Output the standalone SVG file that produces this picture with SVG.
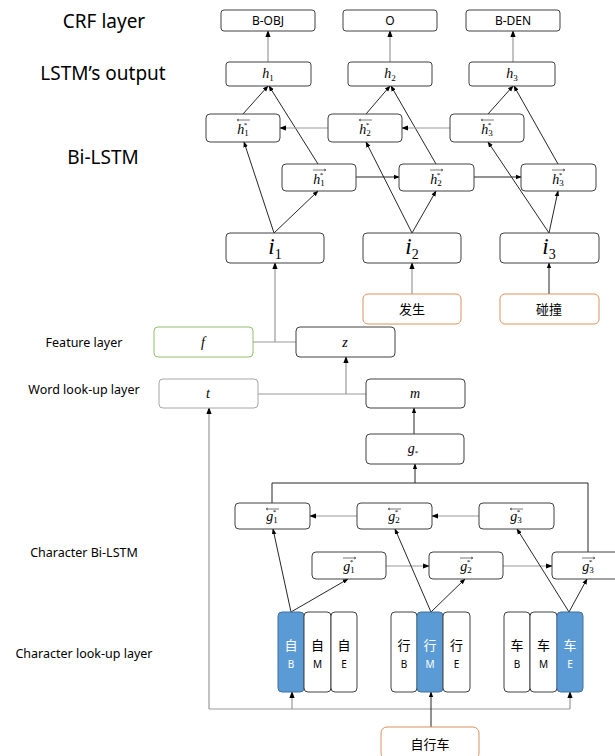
<svg xmlns="http://www.w3.org/2000/svg" width="615" height="756" viewBox="0 0 615 756">
<defs>
<style>
.n{fill:#fff;stroke:#404040;stroke-width:1}
.g{fill:#fff;stroke:#8fbf6a;stroke-width:1}
.lt{fill:#fff;stroke:#a6a6a6;stroke-width:1}
.o{fill:#fff;stroke:#e0905a;stroke-width:1}
.b{fill:#5b9bd5;stroke:#41719c;stroke-width:1}
.lbl{font-family:"Noto Sans","Liberation Sans",sans-serif;fill:#000;text-anchor:middle}
.big{font-size:19px}
.sm{font-size:12.5px}
.tag{font-family:"Noto Sans","Liberation Sans",sans-serif;font-size:12px;fill:#000;text-anchor:middle}
.cj{font-family:"Noto Sans CJK SC",sans-serif;font-size:13px;fill:#000;text-anchor:middle}
.cw{font-family:"Noto Sans CJK SC",sans-serif;font-size:13px;fill:#fff;text-anchor:middle}
.lt2{font-family:"Noto Sans","Liberation Sans",sans-serif;font-size:10px;fill:#000;text-anchor:middle}
.lw2{font-family:"Noto Sans","Liberation Sans",sans-serif;font-size:10px;fill:#fff;text-anchor:middle}
.v{font-family:"Liberation Serif",serif;font-style:italic;font-size:14px;fill:#000;text-anchor:middle}
.vi{font-family:"Liberation Serif",serif;font-style:italic;font-size:23px;fill:#000;text-anchor:middle}
.sub{font-style:normal;font-size:9px}
.subi{font-style:normal;font-size:14px}
.sup{font-style:normal;font-size:7px}
.d{stroke:#262626;stroke-width:1;fill:none}
.gr{stroke:#999;stroke-width:1.2;fill:none}
.ov{stroke:#555;stroke-width:0.8;fill:none}
</style>
<marker id="ad" viewBox="0 0 8 8" refX="7" refY="4" markerWidth="6" markerHeight="6" orient="auto"><path d="M0,1 L8,4 L0,7 z" fill="#000"/></marker>
</defs>

<g id="labels">
<text class="lbl big" x="104" y="28">CRF layer</text>
<text class="lbl big" x="103" y="80">LSTM’s output</text>
<text class="lbl big" x="103" y="164">Bi-LSTM</text>
<text class="lbl sm" x="84" y="347">Feature layer</text>
<text class="lbl sm" x="84" y="394">Word look-up layer</text>
<text class="lbl sm" x="84" y="557">Character Bi-LSTM</text>
<text class="lbl sm" x="84" y="658">Character look-up layer</text>
</g>

<g id="connectors">
<line class="gr" x1="268" y1="62" x2="268" y2="31" marker-end="url(#ad)"/>
<line class="gr" x1="390" y1="62" x2="390" y2="31" marker-end="url(#ad)"/>
<line class="gr" x1="513" y1="62" x2="513" y2="31" marker-end="url(#ad)"/>
<line class="d" x1="243" y1="114" x2="268" y2="86" marker-end="url(#ad)"/>
<line class="d" x1="318" y1="164" x2="269" y2="86" marker-end="url(#ad)"/>
<line class="d" x1="366" y1="114" x2="390" y2="86" marker-end="url(#ad)"/>
<line class="d" x1="436" y1="164" x2="391" y2="86" marker-end="url(#ad)"/>
<line class="d" x1="488" y1="114" x2="513" y2="86" marker-end="url(#ad)"/>
<line class="d" x1="558" y1="164" x2="514" y2="86" marker-end="url(#ad)"/>
<line class="gr" x1="328" y1="128" x2="280" y2="128" marker-end="url(#ad)"/>
<line class="gr" x1="450" y1="128" x2="402" y2="128" marker-end="url(#ad)"/>
<line class="d" x1="356" y1="177" x2="399" y2="177" marker-end="url(#ad)"/>
<line class="d" x1="474" y1="177" x2="521" y2="177" marker-end="url(#ad)"/>
<line class="d" x1="274" y1="233" x2="244" y2="142" marker-end="url(#ad)"/>
<line class="d" x1="274" y1="233" x2="318" y2="191" marker-end="url(#ad)"/>
<line class="d" x1="412" y1="233" x2="366" y2="142" marker-end="url(#ad)"/>
<line class="d" x1="412" y1="233" x2="436" y2="191" marker-end="url(#ad)"/>
<line class="d" x1="549" y1="233" x2="488" y2="142" marker-end="url(#ad)"/>
<line class="d" x1="549" y1="233" x2="558" y2="191" marker-end="url(#ad)"/>
<polyline class="gr" points="253,342 296,342"/>
<line class="gr" x1="275" y1="342" x2="275" y2="263" marker-end="url(#ad)"/>
<line class="gr" x1="412" y1="294" x2="412" y2="263" marker-end="url(#ad)"/>
<line class="d" x1="549" y1="294" x2="549" y2="263" marker-end="url(#ad)"/>
<polyline class="gr" points="258,394 366,394"/>
<line class="gr" x1="346" y1="394" x2="346" y2="357" marker-end="url(#ad)"/>
<line class="d" x1="414" y1="434" x2="414" y2="408" marker-end="url(#ad)"/>
<polyline class="d" points="272,503 272,483 588,483 588,552"/>
<line class="d" x1="415" y1="483" x2="415" y2="464" marker-end="url(#ad)"/>
<line class="gr" x1="357" y1="516" x2="310" y2="516" marker-end="url(#ad)"/>
<line class="gr" x1="479" y1="516" x2="432" y2="516" marker-end="url(#ad)"/>
<line class="gr" x1="386" y1="566" x2="429" y2="566" marker-end="url(#ad)"/>
<line class="gr" x1="503" y1="566" x2="552" y2="566" marker-end="url(#ad)"/>
<line class="d" x1="291" y1="612" x2="273" y2="529" marker-end="url(#ad)"/>
<line class="d" x1="291" y1="612" x2="348" y2="579" marker-end="url(#ad)"/>
<line class="d" x1="431" y1="612" x2="395" y2="529" marker-end="url(#ad)"/>
<line class="d" x1="431" y1="612" x2="465" y2="579" marker-end="url(#ad)"/>
<line class="d" x1="569" y1="612" x2="517" y2="529" marker-end="url(#ad)"/>
<line class="d" x1="569" y1="612" x2="587" y2="579" marker-end="url(#ad)"/>
<polyline class="gr" points="292,709 209,709"/>
<line class="gr" x1="209" y1="709" x2="209" y2="408" marker-end="url(#ad)"/>
<line class="gr" x1="292" y1="709" x2="292" y2="692" marker-end="url(#ad)"/>
<polyline class="gr" points="292,709 570,709"/>
<line class="gr" x1="570" y1="709" x2="570" y2="692" marker-end="url(#ad)"/>
<line class="d" x1="431" y1="727" x2="431" y2="692" marker-end="url(#ad)"/>
</g>

<g id="crf1"><rect class="n" x="221" y="10" width="94" height="21" rx="3"/><text class="tag" x="268" y="25">B-OBJ</text></g>
<g id="crf2"><rect class="n" x="343" y="10" width="94" height="21" rx="3"/><text class="tag" x="390" y="25">O</text></g>
<g id="crf3"><rect class="n" x="466" y="10" width="94" height="21" rx="3"/><text class="tag" x="513" y="25">B-DEN</text></g>

<g id="h1"><rect class="n" x="226" y="62" width="85" height="24" rx="3"/><text class="v" x="268" y="78">h<tspan class="sub" dy="3">1</tspan></text></g>
<g id="h2"><rect class="n" x="348" y="62" width="84" height="24" rx="3"/><text class="v" x="390" y="78">h<tspan class="sub" dy="3">2</tspan></text></g>
<g id="h3"><rect class="n" x="469" y="62" width="86" height="24" rx="3"/><text class="v" x="512" y="78">h<tspan class="sub" dy="3">3</tspan></text></g>

<g id="hb1"><rect class="n" x="206" y="114" width="74" height="28" rx="4"/><path class="ov" d="M237,120 H250 M237,120 l2,-1 M237,120 l2,1"/><text class="v" x="243" y="134">h<tspan class="sub" dy="2">1</tspan><tspan class="sup" dx="-5" dy="-9">*</tspan></text></g>
<g id="hb2"><rect class="n" x="328" y="114" width="74" height="28" rx="4"/><path class="ov" d="M359,120 H372 M359,120 l2,-1 M359,120 l2,1"/><text class="v" x="365" y="134">h<tspan class="sub" dy="2">2</tspan><tspan class="sup" dx="-5" dy="-9">*</tspan></text></g>
<g id="hb3"><rect class="n" x="450" y="114" width="74" height="28" rx="4"/><path class="ov" d="M481,120 H494 M481,120 l2,-1 M481,120 l2,1"/><text class="v" x="487" y="134">h<tspan class="sub" dy="2">3</tspan><tspan class="sup" dx="-5" dy="-9">*</tspan></text></g>

<g id="hf1"><rect class="n" x="282" y="164" width="74" height="27" rx="4"/><path class="ov" d="M313,170 H326 M326,170 l-2,-1 M326,170 l-2,1"/><text class="v" x="319" y="184">h<tspan class="sub" dy="2">1</tspan><tspan class="sup" dx="-5" dy="-9">*</tspan></text></g>
<g id="hf2"><rect class="n" x="399" y="164" width="75" height="27" rx="4"/><path class="ov" d="M430,170 H443 M443,170 l-2,-1 M443,170 l-2,1"/><text class="v" x="436" y="184">h<tspan class="sub" dy="2">2</tspan><tspan class="sup" dx="-5" dy="-9">*</tspan></text></g>
<g id="hf3"><rect class="n" x="521" y="164" width="75" height="27" rx="4"/><path class="ov" d="M552,170 H565 M565,170 l-2,-1 M565,170 l-2,1"/><text class="v" x="558" y="184">h<tspan class="sub" dy="2">3</tspan><tspan class="sup" dx="-5" dy="-9">*</tspan></text></g>

<g id="i1"><rect class="n" x="226" y="233" width="98" height="30" rx="4"/><text class="vi" x="275" y="254">i<tspan class="subi" dy="5">1</tspan></text></g>
<g id="i2"><rect class="n" x="363" y="233" width="98" height="30" rx="4"/><text class="vi" x="412" y="254">i<tspan class="subi" dy="5">2</tspan></text></g>
<g id="i3"><rect class="n" x="500" y="233" width="99" height="30" rx="4"/><text class="vi" x="549" y="254">i<tspan class="subi" dy="5">3</tspan></text></g>

<g id="w2"><rect class="o" x="363" y="294" width="98" height="30" rx="5"/><text class="cj" x="412" y="314">发生</text></g>
<g id="w3"><rect class="o" x="500" y="294" width="99" height="30" rx="5"/><text class="cj" x="549" y="314">碰撞</text></g>

<g id="f"><rect class="g" x="154" y="327" width="99" height="30" rx="4"/><text class="v" x="203" y="347">f</text></g>
<g id="z"><rect class="n" x="296" y="327" width="99" height="30" rx="4"/><text class="v" x="345" y="347">z</text></g>
<g id="t"><rect class="lt" x="159" y="379" width="99" height="29" rx="4"/><text class="v" x="208" y="398">t</text></g>
<g id="m"><rect class="n" x="366" y="379" width="99" height="29" rx="4"/><text class="v" x="415" y="398">m</text></g>

<g id="gstar"><rect class="n" x="366" y="434" width="98" height="30" rx="4"/><text class="v" x="413" y="453">g<tspan class="sup" font-size="9" dy="2">*</tspan></text></g>

<g id="gb1"><rect class="n" x="235" y="503" width="75" height="26" rx="4"/><path class="ov" d="M266,509 H279 M266,509 l2,-1 M266,509 l2,1"/><text class="v" x="272" y="521">g<tspan class="sub" dy="2">1</tspan><tspan class="sup" dx="-5" dy="-9">*</tspan></text></g>
<g id="gb2"><rect class="n" x="357" y="503" width="75" height="26" rx="4"/><path class="ov" d="M388,509 H401 M388,509 l2,-1 M388,509 l2,1"/><text class="v" x="394" y="521">g<tspan class="sub" dy="2">2</tspan><tspan class="sup" dx="-5" dy="-9">*</tspan></text></g>
<g id="gb3"><rect class="n" x="479" y="503" width="75" height="26" rx="4"/><path class="ov" d="M510,509 H523 M510,509 l2,-1 M510,509 l2,1"/><text class="v" x="516" y="521">g<tspan class="sub" dy="2">3</tspan><tspan class="sup" dx="-5" dy="-9">*</tspan></text></g>

<g id="gf1"><rect class="n" x="312" y="552" width="74" height="27" rx="4"/><path class="ov" d="M343,558 H356 M356,558 l-2,-1 M356,558 l-2,1"/><text class="v" x="349" y="571">g<tspan class="sub" dy="2">1</tspan><tspan class="sup" dx="-5" dy="-9">*</tspan></text></g>
<g id="gf2"><rect class="n" x="429" y="552" width="74" height="27" rx="4"/><path class="ov" d="M460,558 H473 M473,558 l-2,-1 M473,558 l-2,1"/><text class="v" x="466" y="571">g<tspan class="sub" dy="2">2</tspan><tspan class="sup" dx="-5" dy="-9">*</tspan></text></g>
<g id="gf3"><rect class="n" x="552" y="552" width="74" height="27" rx="4"/><path class="ov" d="M582,558 H595 M595,558 l-2,-1 M595,558 l-2,1"/><text class="v" x="588" y="571">g<tspan class="sub" dy="2">3</tspan><tspan class="sup" dx="-5" dy="-9">*</tspan></text></g>

<g id="c1"><rect class="b" x="278" y="612" width="26" height="80" rx="4"/><text class="cw" x="291" y="650">自</text><text class="lw2" x="291" y="668">B</text></g>
<g id="c2"><rect class="n" x="304" y="612" width="27" height="80" rx="4"/><text class="cj" x="317.5" y="650">自</text><text class="lt2" x="317.5" y="668">M</text></g>
<g id="c3"><rect class="n" x="331" y="612" width="26" height="80" rx="4"/><text class="cj" x="344" y="650">自</text><text class="lt2" x="344" y="668">E</text></g>
<g id="c4"><rect class="n" x="391" y="612" width="26" height="80" rx="4"/><text class="cj" x="404" y="650">行</text><text class="lt2" x="404" y="668">B</text></g>
<g id="c5"><rect class="b" x="417" y="612" width="26" height="80" rx="4"/><text class="cw" x="430" y="650">行</text><text class="lw2" x="430" y="668">M</text></g>
<g id="c6"><rect class="n" x="443" y="612" width="27" height="80" rx="4"/><text class="cj" x="456.5" y="650">行</text><text class="lt2" x="456.5" y="668">E</text></g>
<g id="c7"><rect class="n" x="504" y="612" width="26" height="80" rx="4"/><text class="cj" x="517" y="650">车</text><text class="lt2" x="517" y="668">B</text></g>
<g id="c8"><rect class="n" x="530" y="612" width="27" height="80" rx="4"/><text class="cj" x="543.5" y="650">车</text><text class="lt2" x="543.5" y="668">M</text></g>
<g id="c9"><rect class="b" x="557" y="612" width="26" height="80" rx="4"/><text class="cw" x="570" y="650">车</text><text class="lw2" x="570" y="668">E</text></g>

<g id="word"><rect class="o" x="381" y="727" width="98" height="32" rx="6"/><text class="cj" x="430" y="749">自行车</text></g>
</svg>
